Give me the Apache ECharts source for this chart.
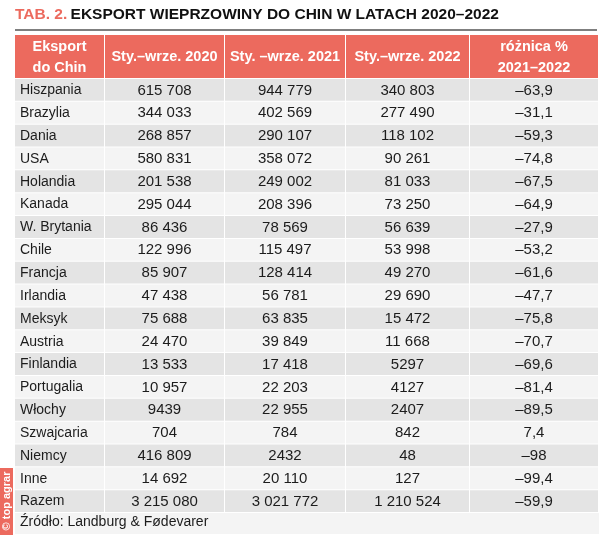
<!DOCTYPE html>
<html>
<head>
<meta charset="utf-8">
<script src="https://cdn.jsdelivr.net/npm/echarts@6/dist/echarts.min.js"></script>
<style>
html,body{margin:0;padding:0;background:#ffffff;}
#chart{width:600px;height:538px;}
</style>
</head>
<body>
<div id="chart"></div>
<script>
// ---- data ----
const countries = ['Hiszpania','Brazylia','Dania','USA','Holandia','Kanada','W. Brytania','Chile','Francja','Irlandia','Meksyk','Austria','Finlandia','Portugalia','Włochy','Szwajcaria','Niemcy','Inne','Razem'];
const exp2020 = [615708,344033,268857,580831,201538,295044,86436,122996,85907,47438,75688,24470,13533,10957,9439,704,416809,14692,3215080];
const exp2021 = [944779,402569,290107,358072,249002,208396,78569,115497,128414,56781,63835,39849,17418,22203,22955,784,2432,20110,3021772];
const exp2022 = [340803,277490,118102,90261,81033,73250,56639,53998,49270,29690,15472,11668,5297,4127,2407,842,48,127,1210524];
const diffPct = [-63.9,-31.1,-59.3,-74.8,-67.5,-64.9,-27.9,-53.2,-61.6,-47.7,-75.8,-70.7,-69.6,-81.4,-89.5,7.4,-98,-99.4,-59.9];
const headers = ['Eksport\ndo Chin','Sty.–wrze. 2020','Sty. –wrze. 2021','Sty.–wrze. 2022','różnica %\n2021–2022'];
const titleLabel = 'TAB. 2.';
const titleText = 'EKSPORT WIEPRZOWINY DO CHIN W LATACH 2020–2022';
const sourceText = 'Źródło: Landburg & Fødevarer';

// ---- formatting ----
function fmtInt(v){
  let s = String(Math.abs(v));
  if (s.length > 4) s = s.replace(/\B(?=(\d{3})+(?!\d))/g, ' ');
  return (v < 0 ? '–' : '') + s;
}
function fmtPct(v){
  const a = Math.abs(v);
  const s = (a % 1 === 0) ? String(a) : a.toFixed(1).replace('.', ',');
  return (v < 0 ? '–' : '') + s;
}
const columns = [
  countries,
  exp2020.map(fmtInt),
  exp2021.map(fmtInt),
  exp2022.map(fmtInt),
  diffPct.map(fmtPct)
];

// ---- layout / style ----
const edges = [15, 105, 225, 346, 470, 599];
const headTop = 35, headH = 44, bodyTop = 79, bodyH = 434;
const RED = '#ec6a5e', DARK = '#e4e4e4', LIGHT = '#f4f4f4', TXT = '#1c1c1c';
const FONT = '"Liberation Sans", Arial, Helvetica, sans-serif';

const grid = [], xAxis = [], yAxis = [], series = [];
for (let c = 0; c < 5; c++) {
  const w = edges[c+1] - edges[c];
  // header grid
  grid.push({left: edges[c], top: headTop, width: w, height: headH});
  xAxis.push({type:'category', gridIndex: grid.length-1, data:[c], show:false});
  yAxis.push({type:'category', gridIndex: grid.length-1, data:['h'], show:false});
  const hg = grid.length-1;
  series.push({
    type:'custom', xAxisIndex: hg, yAxisIndex: hg, silent:true,
    data:[[0,0]],
    renderItem: (function(col){ return function(params, api){
      const p = api.coord([api.value(0), api.value(1)]);
      const s = api.size([1,1]);
      const x0 = p[0]-s[0]/2, y0 = p[1]-s[1]/2;
      return {type:'group', children:[
        {type:'rect', shape:{x:x0, y:y0, width:s[0]-1, height:s[1]-1}, style:{fill:RED}},
        {type:'text', style:{x:x0+(s[0]-1)/2, y:y0+(s[1]-1)/2+0.5, text:headers[col], align:'center', verticalAlign:'middle',
          fill:'#ffffff', font:'bold 14.5px '+FONT, lineHeight:21}}
      ]};
    };})(c)
  });
  // body grid
  grid.push({left: edges[c], top: bodyTop, width: w, height: bodyH});
  xAxis.push({type:'category', gridIndex: grid.length-1, data:[c], show:false});
  yAxis.push({type:'category', gridIndex: grid.length-1, data:countries, inverse:true, show:false});
  const bg = grid.length-1;
  series.push({
    type:'custom', xAxisIndex: bg, yAxisIndex: bg, silent:true,
    data: countries.map((n,i)=>[0,i]),
    renderItem: (function(col){ return function(params, api){
      const i = params.dataIndex;
      const p = api.coord([api.value(0), api.value(1)]);
      const s = api.size([1,1]);
      const x0 = p[0]-s[0]/2, y0 = p[1]-s[1]/2;
      const left = col === 0;
      return {type:'group', children:[
        {type:'rect', shape:{x:x0, y:y0, width:s[0]-1, height:s[1]-1}, style:{fill: i%2===0 ? DARK : LIGHT}},
        {type:'text', style:{x: left ? x0+5 : x0+(s[0]-1)/2, y:y0+(s[1]-1)/2+0.5, text:columns[col][i],
          align: left ? 'left' : 'center', verticalAlign:'middle', fill:TXT,
          font: (left ? '14px ' : '15px ') + FONT}}
      ]};
    };})(c)
  });
}

const chart = echarts.init(document.getElementById('chart'), null, {renderer:'canvas'});
chart.setOption({
  animation:false,
  backgroundColor:'#ffffff',
  grid, xAxis, yAxis, series,
  graphic:[
    {type:'rect', left:15, top:513, shape:{width:584, height:21}, style:{fill:LIGHT}, z:-1},
    {type:'text', left:15, top:7, style:{
      text:'{a|'+titleLabel+'} {b|'+titleText+'}',
      rich:{a:{fill:RED, font:'bold 15.5px '+FONT}, b:{fill:'#111111', font:'bold 15.5px '+FONT}}
    }},
    {type:'line', shape:{x1:15, y1:30, x2:597, y2:30}, style:{stroke:'#555555', lineWidth:1.5}},
    {type:'text', left:20, top:515, style:{text:sourceText, fill:TXT, font:'14px '+FONT}},
    {type:'rect', shape:{x:0, y:468, width:13, height:67}, style:{fill:RED}},
    {type:'text', x:7, y:501, rotation:Math.PI/2, style:{text:'© top agrar', align:'center', verticalAlign:'middle', fill:'#ffffff', font:'bold 11px '+FONT}}
  ]
});
</script>
</body>
</html>
